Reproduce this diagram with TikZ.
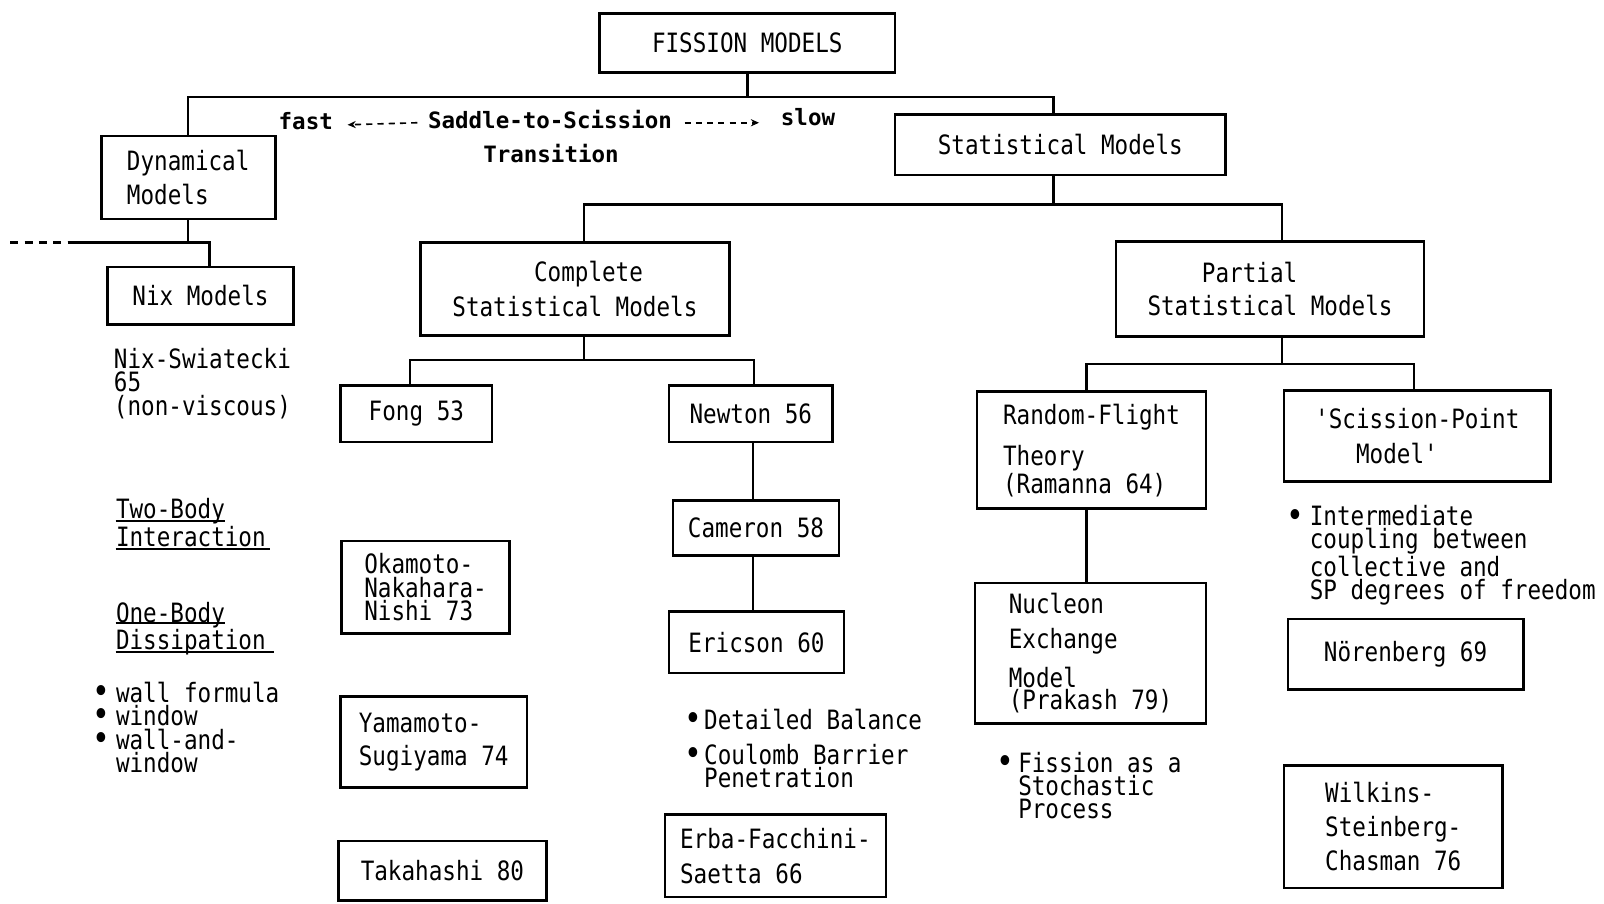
\documentclass[tikz,border=0pt]{standalone}
\usepackage{fontspec}
\newfontfamily\plt[FakeStretch=0.85]{DejaVu Sans Mono}
\newfontfamily\hdr{DejaVu Sans Mono}
\newcommand\bigbul{\smash{\fontsize{17}{0}\selectfont\raisebox{-0.6pt}{\textbullet}}}
\usetikzlibrary{arrows.meta}
\begin{document}
\tikzset{
  modelbox/.style={draw, line width=1.3pt, inner sep=0pt, align=left, font=\plt\fontsize{13}{11.5}\selectfont},
  sz/.style 2 args={minimum width=#1pt, minimum height=#2pt},
  lbl/.style={inner sep=0pt, anchor=north west, align=left, font=\plt\fontsize{13}{11.5}\selectfont},
  ls/.style={font=\plt\fontsize{13}{#1}\selectfont},
  conn/.style={line width=1.2pt},
  hd/.style={inner sep=0pt, anchor=west, font=\hdr\bfseries\fontsize{11}{13}\selectfont},
  harrow/.style={dash pattern=on 3pt off 2.5pt, line width=0.8pt, -{Stealth[length=4pt,width=3.5pt]}},
  uline/.style={line width=1pt},
}
\begin{tikzpicture}[x=0.5pt,y=-0.5pt]
\useasboundingbox (0,0) rectangle (1568,883);
\fill[white] (0,0) rectangle (1568,883);

% boxes
\node[modelbox, sz={144.5}{29}] (fission) at (730.5,42) {FISSION MODELS};
\node[modelbox, ls=17pt, sz={85}{40.5}] (dyn) at (184,173.5) {Dynamical\\Models};
\node[modelbox, sz={161.5}{29.5}] (stat) at (1036.5,141.5) {Statistical Models};
\node[modelbox, ls=17pt, sz={151}{45.5}] (comp) at (562,282.5) {\hphantom{Statis}Complete\\Statistical Models};
\node[modelbox, ls=16.5pt, sz={150.5}{46.5}] (part) at (1241.5,282.5) {\hphantom{Stat}Partial\\Statistical Models};
\node[modelbox, sz={91}{28}] (nix) at (196,289) {Nix Models};
\node[modelbox, sz={74}{27.5}] (fong) at (407,404.5) {Fong 53};
\node[modelbox, sz={80}{27.5}] (newton) at (734,404.5) {Newton 56};
\node[modelbox, sz={81}{27}] (cameron) at (739,516) {Cameron 58};
\node[modelbox, sz={85.5}{30}] (ericson) at (739.5,628) {Ericson 60};
\node[modelbox, ls=17pt, sz={108}{40.5}] (erba) at (758,836.5) {Erba-Facchini-\\Saetta 66};
\node[modelbox, sz={82}{45}] (okamoto) at (416,574) {Okamoto-\\Nakahara-\\Nishi 73};
\node[modelbox, ls=16.5pt, sz={91}{44.5}] (yamamoto) at (424,725.5) {Yamamoto-\\Sugiyama 74};
\node[modelbox, sz={101.5}{29}] (takahashi) at (432.5,851) {Takahashi 80};
\node[modelbox, ls=11pt, sz={112}{57}] (random) at (1067,440) {Random-Flight\\[6.5pt]Theory\\(Ramanna 64)};
\node[modelbox, ls=11pt, sz={113}{68.5}] (nucleon) at (1066,638.5) {Nucleon\\[6pt]Exchange\\[5.5pt]Model\\(Prakash 79)};
\node[modelbox, ls=17pt, sz={130.5}{44.5}] (scission) at (1385.5,426.5) {'Scission-Point\\\hphantom{'Sc}Model'};
\node[modelbox, sz={115}{34.5}] (noren) at (1374,639.5) {Nörenberg 69};
\node[modelbox, ls=16.75pt, sz={107}{60}] (wilkins) at (1362,808) {Wilkins-\\Steinberg-\\Chasman 76};

% free texts
\node[lbl] (nixsw) at (111,340) {Nix-Swiatecki\\65\\(non-viscous)};
\node[lbl, ls=11pt] (twob) at (113,487) {Two-Body\\Interaction};
\node[lbl, ls=11pt] (oneb) at (113,588) {One-Body\\Dissipation};
\node[lbl] (walls) at (113,666) {\llap{\bigbul\hspace{2.6pt}}wall formula\\\llap{\bigbul\hspace{2.6pt}}window\\\llap{\bigbul\hspace{2.6pt}}wall-and-\\window};
\node[lbl] (balance) at (688,693) {\llap{\bigbul\hspace{1.1pt}}Detailed Balance\\[5.5pt]\llap{\bigbul\hspace{1.1pt}}Coulomb Barrier\\Penetration};
\node[lbl, ls=11.25pt] (stoch) at (995,735) {\llap{\bigbul\hspace{2.1pt}}Fission as a\\Stochastic\\Process};
\node[lbl, ls=11pt] (interm) at (1280,494) {\llap{\bigbul\hspace{2.6pt}}Intermediate\\coupling between\\collective and\\SP degrees of freedom};

\draw[uline] (113,509) -- (220,509);
\draw[uline] (113,537) -- (264,537);
\draw[uline] (113,609) -- (220,609);
\draw[uline] (113,637) -- (268,637);

% header
\node[hd] (fast) at (272,118) {fast};
\node[hd] (saddle) at (418,117) {Saddle-to-Scission};
\node[hd] (slow) at (763,114) {slow};
\node[hd] (trans) at (472,150) {Transition};
\draw[harrow] ([shift={(-10,3)}]saddle.west) -- ([shift={(14,4)}]fast.east);
\draw[harrow] ([shift={(12,3)}]saddle.east) -- ([shift={(-21,6)}]slow.west);

% connectors
\coordinate (a2) at (1030,95);
\draw[conn] (fission.south) -- (fission.south |- a2);
\draw[conn] (dyn.north) |- (a2) -- (a2 |- stat.north);

\coordinate (b1) at (571,200);
\coordinate (b2) at (1030,200);
\coordinate (b3) at (1253,200);
\draw[conn] (b2 |- stat.south) -- (b2);
\draw[conn] (b1 |- comp.north) -- (b1) -- (b3) -- (b3 |- part.north);

\coordinate (c0) at (10,237);
\coordinate (c1) at (66,237);
\coordinate (c2) at (205,237);
\draw[conn] (dyn.south) -- (dyn.south |- c2);
\draw[conn] (c1) -- (c2) -- (c2 |- nix.north);
\draw[conn, dash pattern=on 4pt off 3pt] (c0) -- (c1);

\coordinate (d0) at (571,352);
\coordinate (d1) at (401,352);
\coordinate (d2) at (737,352);
\draw[conn] (d0 |- comp.south) -- (d0);
\draw[conn] (d1 |- fong.north) -- (d1) -- (d2) -- (d2 |- newton.north);

\coordinate (ex) at (736,0);
\draw[conn] (ex |- newton.south) -- (ex |- cameron.north);
\draw[conn] (ex |- cameron.south) -- (ex |- ericson.north);

\coordinate (f0) at (1253,356);
\coordinate (f1) at (1062,356);
\coordinate (f2) at (1382,356);
\draw[conn] (f0 |- part.south) -- (f0);
\draw[conn] (f1 |- random.north) -- (f1) -- (f2) -- (f2 |- scission.north);
\draw[conn] (f1 |- random.south) -- (f1 |- nucleon.north);
\end{tikzpicture}
\end{document}
